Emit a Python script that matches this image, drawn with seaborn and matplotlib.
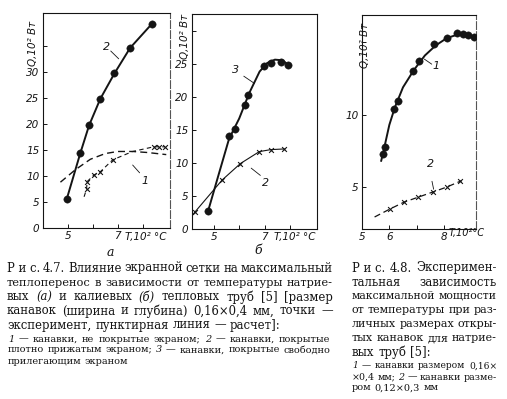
import matplotlib
matplotlib.use("Agg")
import matplotlib.pyplot as plt
import seaborn as sns

sns.set_style("ticks")
plt.rcParams["font.family"] = ["DejaVu Sans"]

W, H = 507, 399
INK = "#141414"

# Рис. 4.7 а -- натриевые трубы
a_x2 = [4.95, 5.5, 5.85, 6.3, 6.87, 7.5, 8.37]
a_q2 = [5.5, 14.4, 19.7, 24.8, 29.7, 34.6, 39.2]
a_x1 = [5.75, 5.77, 6.05, 6.3, 6.8, 8.45, 8.65, 8.9]
a_q1 = [7.5, 8.9, 10.2, 10.8, 13.1, 15.6, 15.6, 15.6]
a_line1_x = [5.65, 5.75, 5.77, 6.05, 6.3, 6.8, 7.6, 8.45, 8.9]
a_line1_q = [6.0, 7.5, 8.9, 10.2, 10.8, 13.1, 14.7, 15.6, 15.6]
a_calc_x = [4.7, 5.0, 5.3, 5.9, 6.5, 7.0, 7.6, 8.2, 8.95]
a_calc_q = [8.8, 10.0, 11.2, 13.2, 14.3, 14.7, 14.7, 14.5, 14.1]

# Рис. 4.7 б -- калиевые трубы
b_x3 = [4.78, 5.61, 5.84, 6.24, 6.35, 6.97, 7.25, 7.65, 7.93]
b_q3 = [2.7, 14.0, 15.1, 18.8, 20.3, 24.7, 25.1, 25.3, 24.8]
b_line3_x = [4.78, 5.2, 5.6, 6.0, 6.4, 6.8, 7.1, 7.4, 7.7, 7.93]
b_line3_q = [2.7, 8.3, 13.6, 16.7, 20.6, 23.8, 25.1, 25.6, 25.5, 24.8]
b_x2 = [4.25, 5.33, 6.05, 6.79, 7.24, 7.77]
b_q2 = [2.5, 7.4, 9.9, 11.7, 12.0, 12.1]
b_line2_x = [4.15, 4.25, 5.33, 6.05, 6.79, 7.24, 7.77]
b_line2_q = [2.0, 2.5, 7.4, 9.9, 11.7, 12.0, 12.1]

# Рис. 4.8
c_x1 = [5.76, 5.84, 6.16, 6.32, 6.86, 7.07, 7.65, 8.1, 8.49, 8.71, 8.88, 9.09]
c_q1 = [7.3, 7.76, 10.4, 10.97, 13.04, 13.7, 14.9, 15.3, 15.65, 15.6, 15.5, 15.4]
c_line1_x = [5.7, 5.8, 6.0, 6.2, 6.5, 6.9, 7.3, 7.7, 8.1, 8.5, 8.8, 9.17]
c_line1_q = [6.8, 7.6, 9.3, 10.5, 11.9, 13.1, 14.1, 14.8, 15.3, 15.55, 15.5, 15.3]
c_x2 = [6.02, 6.54, 7.04, 7.58, 8.1, 8.6]
c_q2 = [3.48, 3.96, 4.29, 4.65, 5.0, 5.39]
c_line2_x = [5.46, 6.02, 6.54, 7.04, 7.58, 8.1, 8.64]
c_line2_q = [2.93, 3.48, 3.96, 4.29, 4.65, 5.0, 5.44]

fig = plt.figure(figsize=(W / 100, H / 100), dpi=100)


def px_axes(left, top, right, bottom):
    return fig.add_axes([left / W, 1 - bottom / H, (right - left) / W, (bottom - top) / H])


def style_axes(ax, xlim, ylim, xticks, xlabels, yticks, ylabels, dashed_right=False):
    ax.set_xlim(*xlim)
    ax.set_ylim(*ylim)
    ax.set_xticks(xticks)
    ax.set_xticklabels(xlabels)
    ax.set_yticks(yticks)
    ax.set_yticklabels(ylabels)
    ax.set_xlabel("")
    ax.set_ylabel("")
    ax.tick_params(direction="in", length=3, width=0.7, labelsize=7.5, colors=INK, pad=2.5)
    for t in ax.get_xticklabels() + ax.get_yticklabels():
        t.set_fontstyle("italic")
    for s in ax.spines.values():
        s.set_visible(True)
        s.set_linewidth(0.8)
        s.set_color(INK)
    if dashed_right:
        ax.spines["right"].set_linestyle((0, (7, 2)))
        ax.spines["right"].set_color("#555555")


def curve(ax, x, y, ls="-", lw=1.3):
    sns.lineplot(x=x, y=y, ax=ax, sort=False, color=INK, linestyle=ls, linewidth=lw, estimator=None)


def dots(ax, x, y):
    sns.scatterplot(x=x, y=y, ax=ax, color=INK, s=28, edgecolor=INK, linewidth=0.3, zorder=3)


def crosses(ax, x, y):
    sns.scatterplot(x=x, y=y, ax=ax, color=INK, marker="x", s=12, linewidth=0.8, zorder=3)


def lead(ax, x, y, label, x0, y0, x1, y1):
    ax.plot([x0, x1], [y0, y1], color=INK, lw=0.6)
    ax.text(x, y, label, fontsize=8, fontstyle="italic", color=INK, ha="center", va="center")


# ---- panel а ----
ax = px_axes(43, 13, 170, 228)
curve(ax, a_calc_x, a_calc_q, ls=(0, (5, 3)), lw=1.0)
curve(ax, a_line1_x, a_line1_q, ls=(0, (4, 3)), lw=0.8)
crosses(ax, a_x1, a_q1)
curve(ax, a_x2, a_q2, lw=1.4)
dots(ax, a_x2, a_q2)
lead(ax, 6.55, 34.8, "2", 6.72, 34.0, 7.04, 32.5)
lead(ax, 8.1, 9.0, "1", 7.6, 12.1, 7.88, 10.6)
style_axes(ax, (4.0, 9.1), (0, 41.3), [5, 6, 7, 8], ["5", "", "7", ""],
           [0, 5, 10, 15, 20, 25, 30, 35], ["0", "5", "10", "15", "20", "25", "30", ""],
           dashed_right=True)
fig.text(33 / W, 1 - 43 / H, "Q,10² Вт", rotation=90, fontsize=7.5, fontstyle="italic",
         color=INK, ha="center", va="center")
fig.text(125 / W, 1 - 237 / H, "T,10² °C", fontsize=7.5, fontstyle="italic", color=INK,
         ha="left", va="center")
fig.text(110 / W, 1 - 252 / H, "а", fontsize=9, fontstyle="italic", color=INK,
         ha="center", va="center", family="DejaVu Serif")

# ---- panel б ----
ax = px_axes(192, 14, 317, 229)
curve(ax, b_line2_x, b_line2_q, lw=0.8)
crosses(ax, b_x2, b_q2)
curve(ax, b_line3_x, b_line3_q, lw=1.4)
dots(ax, b_x3, b_q3)
lead(ax, 5.85, 24.0, "3", 6.18, 23.1, 6.6, 22.0)
lead(ax, 7.05, 6.9, "2", 6.83, 8.1, 6.47, 9.2)
style_axes(ax, (4.15, 9.05), (0, 32.5), [5, 6, 7, 8], ["5", "", "7", ""],
           [0, 5, 10, 15, 20, 25, 30], ["0", "5", "10", "15", "20", "25", ""])
fig.text(185 / W, 1 - 36 / H, "Q,10² Вт", rotation=90, fontsize=7.5, fontstyle="italic",
         color=INK, ha="center", va="center")
fig.text(274 / W, 1 - 237 / H, "T,10² °C", fontsize=7.5, fontstyle="italic", color=INK,
         ha="left", va="center")
fig.text(258 / W, 1 - 250 / H, "б", fontsize=9, fontstyle="italic", color=INK,
         ha="center", va="center", family="DejaVu Serif")

# ---- Рис. 4.8 ----
ax = px_axes(362, 15, 476, 229)
curve(ax, c_line2_x, c_line2_q, ls=(0, (5, 3)), lw=0.9)
crosses(ax, c_x2, c_q2)
curve(ax, c_line1_x, c_line1_q, lw=1.4)
dots(ax, c_x1, c_q1)
lead(ax, 7.72, 13.4, "1", 7.28, 13.85, 7.55, 13.5)
lead(ax, 7.5, 6.6, "2", 7.62, 4.85, 7.56, 5.4)
style_axes(ax, (5.0, 9.17), (2.1, 16.9), [5, 6, 7, 8], ["5", "6", "", "8"],
           [5, 10, 15], ["5", "10", ""], dashed_right=True)
fig.text(365 / W, 1 - 45 / H, "Q,10² Вт", rotation=90, fontsize=7.5, fontstyle="italic",
         color=INK, ha="center", va="center")
fig.text(449 / W, 1 - 233 / H, "T,10²°C", fontsize=7, fontstyle="italic", color=INK,
         ha="left", va="center")

# ---- подписи ----
renderer = fig.canvas.get_renderer()
ITALIC = {"(а)", "(б)", "1", "2", "3"}


def put_line(text, x0, x1, y, size, justify=True, family="DejaVu Serif", min_gap=2.5):
    words = text.split(" ")
    arts = []
    for w in words:
        st = "italic" if w in ITALIC else "normal"
        arts.append(fig.text(0, 1 - y / H, w, fontsize=size, family=family, fontstyle=st,
                             color=INK, ha="left", va="center"))
    # shrink the line a little if the words do not fit
    while True:
        widths = [a.get_window_extent(renderer).width for a in arts]
        n = max(len(words) - 1, 1)
        if sum(widths) + n * min_gap <= x1 - x0 or size < 5:
            break
        size -= 0.2
        for a in arts:
            a.set_fontsize(size)
    if justify and len(words) > 1:
        gap = (x1 - x0 - sum(widths)) / (len(words) - 1)
    else:
        gap = size * 0.33 * 100 / 72
    x = x0
    for a, wd in zip(arts, widths):
        a.set_x(x / W)
        x += wd + gap


cap47 = [
    "Р\u00a0и\u00a0с. 4.7. Влияние экранной сетки на максимальный",
    "теплоперенос в зависимости от температуры натрие-",
    "вых (а) и калиевых (б) тепловых труб [5] [размер",
    "канавок (ширина и глубина) 0,16×0,4 мм, точки —",
    "эксперимент, пунктирная линия — расчет]:",
]
cap47_y = [268, 282.5, 297, 311, 325]
for i, (t, y) in enumerate(zip(cap47, cap47_y)):
    put_line(t, 7, 333, y, 8.4, justify=i < len(cap47) - 1)

note47 = [
    "1 — канавки, не покрытые экраном; 2 — канавки, покрытые",
    "плотно прижатым экраном; 3 — канавки, покрытые свободно",
    "прилегающим экраном",
]
note47_y = [339, 350, 361]
for i, (t, y) in enumerate(zip(note47, note47_y)):
    put_line(t, 8, 330, y, 7.0, justify=i < len(note47) - 1)

cap48 = [
    "Р\u00a0и\u00a0с. 4.8. Эксперимен-",
    "тальная зависимость",
    "максимальной мощности",
    "от температуры при раз-",
    "личных размерах откры-",
    "тых канавок для натрие-",
    "вых труб [5]:",
]
cap48_y = [268, 282, 296, 310, 324, 338, 352]
for i, (t, y) in enumerate(zip(cap48, cap48_y)):
    put_line(t, 352, 497, y, 8.4, justify=i < len(cap48) - 1)

note48 = [
    "1 — канавки размером 0,16×",
    "×0,4 мм; 2 — канавки разме-",
    "ром 0,12×0,3 мм",
]
note48_y = [366, 377, 388]
for i, (t, y) in enumerate(zip(note48, note48_y)):
    put_line(t, 352, 497, y, 7.0, justify=i < len(note48) - 1)

fig.savefig("out.png", dpi=100)
